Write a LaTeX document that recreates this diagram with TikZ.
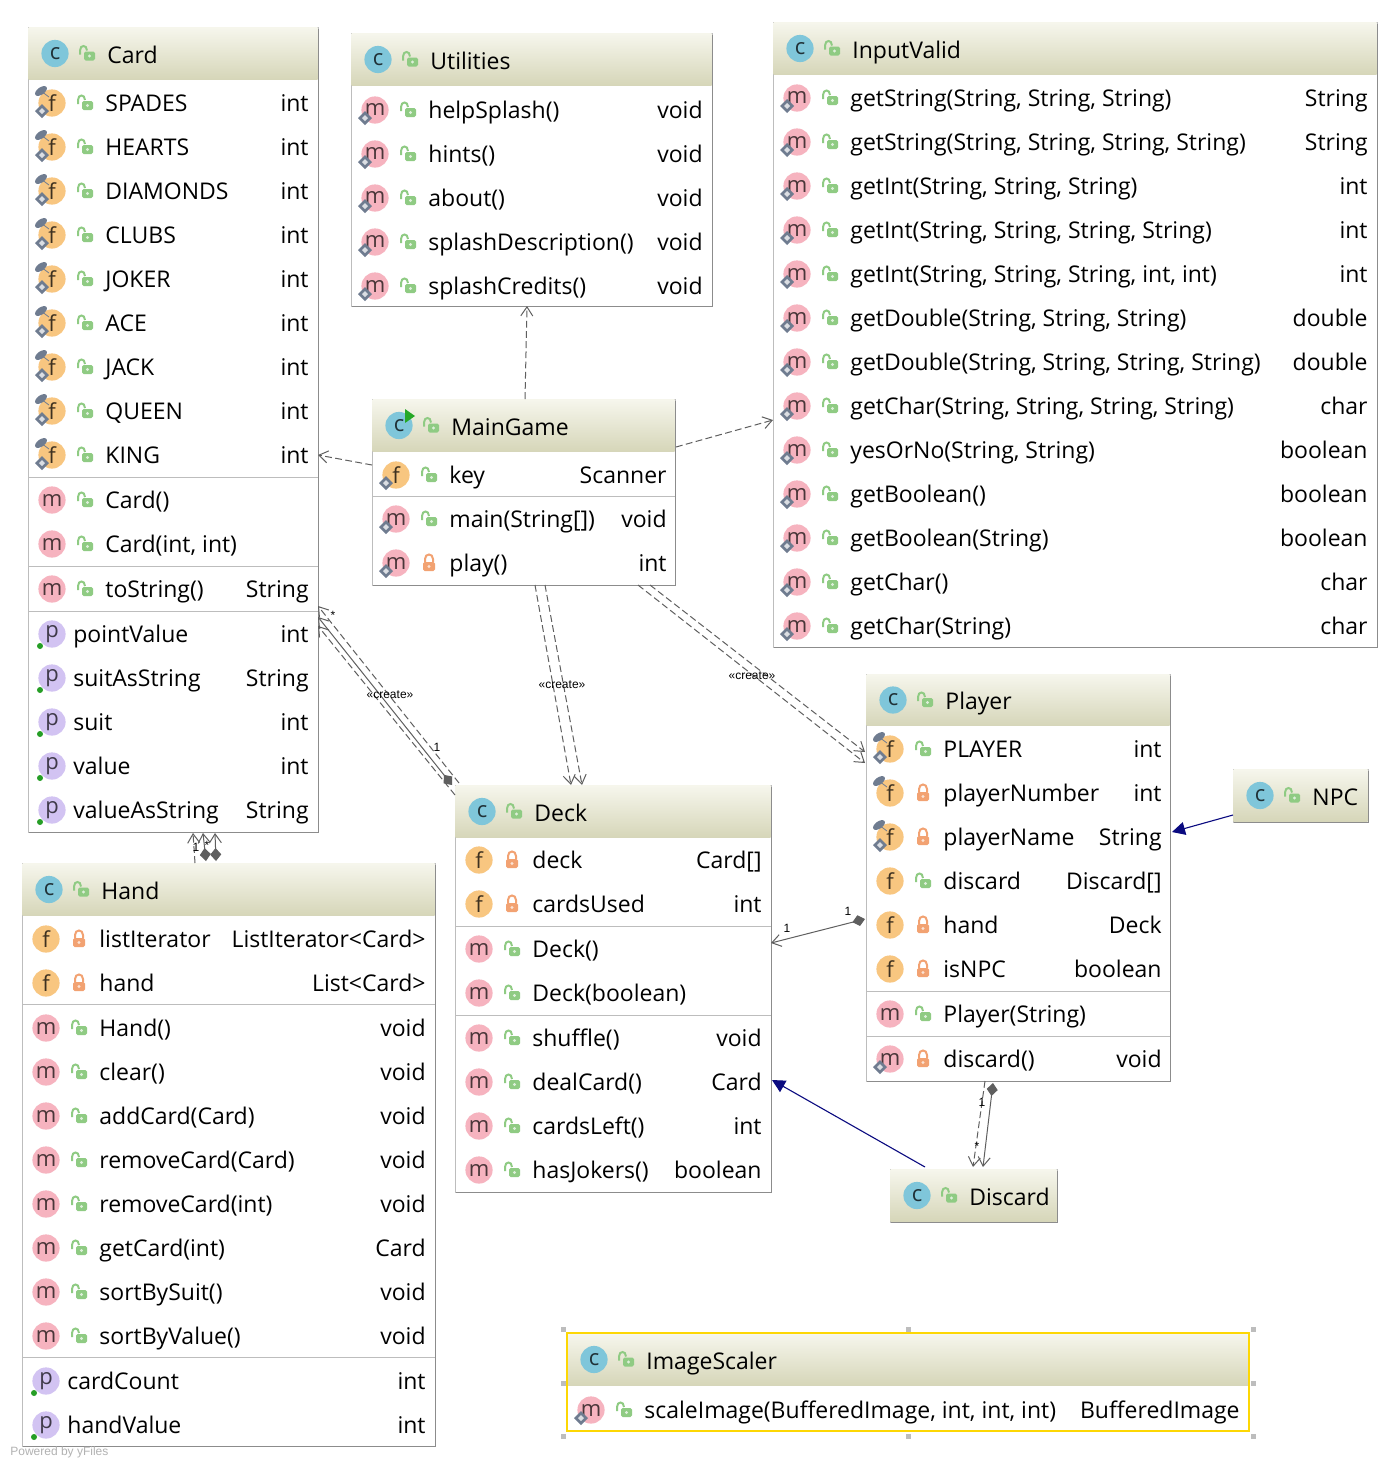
\documentclass[tikz,border=0pt]{standalone}
\usepackage{fontspec}
\setmainfont{Open Sans}
\newfontfamily\smallfont{Liberation Sans}
\usetikzlibrary{arrows.meta,shadings}

\definecolor{headtop}{HTML}{F6F6EC}
\definecolor{headbot}{HTML}{D6D6B9}
\definecolor{edgelight}{HTML}{BDBDBD}
\definecolor{edgedark}{HTML}{8C8C8C}
\definecolor{ballc}{HTML}{7FC6DA}
\definecolor{ballf}{HTML}{F8C680}
\definecolor{ballm}{HTML}{F6B3BF}
\definecolor{ballp}{HTML}{D2C3F2}
\definecolor{markgrey}{HTML}{6F7C90}
\definecolor{lockopen}{HTML}{8FCB83}
\definecolor{lockshut}{HTML}{F2A272}
\definecolor{linkgrey}{HTML}{5F5F5F}
\definecolor{linknavy}{HTML}{0A0A80}

\tikzset{
  boxbody/.style={draw=edgelight,fill=white,line width=0.5pt,anchor=north west,inner sep=0,outer sep=0},
  boxhead/.style={top color=headtop,bottom color=headbot,anchor=north west,inner sep=0,outer sep=0},
  boxname/.style={anchor=base west,inner sep=0,font=\fontsize{11.5}{14}\selectfont},
  rowname/.style={anchor=base west,inner sep=0,font=\fontsize{11.5}{14}\selectfont},
  rowtype/.style={anchor=base east,inner sep=0,font=\fontsize{11.5}{14}\selectfont},
  ball/.style={circle,minimum size=13.6pt,inner sep=0,font=\fontsize{11}{12}\selectfont},
  linktext/.style={inner sep=0,font=\smallfont\fontsize{6}{7}\selectfont},
  link/.style={draw=linkgrey,line width=0.5pt},
  dep/.style={link,dash pattern=on 3.4pt off 1.7pt,-{Straight Barb[length=4.5pt,width=6pt]}},
  own/.style={link,{Diamond[length=6.5pt,width=5.5pt,fill=linkgrey]}-{Straight Barb[length=4.5pt,width=6pt]}},
  inherit/.style={draw=linknavy,line width=0.55pt,-{Triangle[length=6.5pt,width=6.5pt,fill=linknavy]}},
  grip/.style={fill=edgelight,inner sep=0,minimum size=2.5pt},
  pics/pinmark/.style={code={
    \draw[markgrey,line width=0.4pt] (-11,-12) -- (-3,-6);
    \fill[markgrey,rotate around={35:(-11,-12)}] (-11,-12) ellipse (3.4pt and 1.8pt);
  }},
  pics/diamark/.style={code={
    \fill[markgrey] (-17,8) -- (-10,1) -- (-3,8) -- (-10,15) -- cycle;
    \fill[white!75!markgrey] (-13,8) -- (-10,5) -- (-7,8) -- (-10,11) -- cycle;
  }},
  pics/cicon/.style={code={\node[ball,fill=ballc,text=black!75!ballc] (-ball) {c};}},
  pics/ficon/.style={code={\node[ball,fill=ballf,text=black!75!ballf] (-ball) {f};}},
  pics/micon/.style={code={\node[ball,fill=ballm,text=black!70!ballm] (-ball) {m};}},
  pics/fsicon/.style={code={\pic (-a) {ficon}; \pic {diamark};}},
  pics/ffsicon/.style={code={\pic (-a) {ficon}; \pic {pinmark}; \pic {diamark};}},
  pics/fficon/.style={code={\pic (-a) {ficon}; \pic {pinmark};}},
  pics/msicon/.style={code={\pic (-a) {micon}; \pic {diamark};}},
  pics/picon/.style={code={
    \node[ball,fill=ballp,text=black!70!ballp] (-ball) {p};
    \fill[green!55!black!85!white] (-12,12) circle (1.5pt);
  }},
  pics/pub/.style={code={
    \draw[lockopen,line width=1pt] (-7,1) -- (-7,-3) .. controls (-7,-9) and (0,-9) .. (0,-3);
    \fill[lockopen,rounded corners=0.8pt] (-3,-2) rectangle (8,7);
    \fill[white!70!lockopen] (2.5,2.5) circle (0.8pt);
  }},
  pics/priv/.style={code={
    \draw[lockshut,line width=1pt] (-4,-1) -- (-4,-4) .. controls (-4,-10) and (4,-10) .. (4,-4) -- (4,-1);
    \fill[lockshut,rounded corners=0.8pt] (-6,-1) rectangle (6,8);
    \fill[white!70!lockshut] (0,3.5) circle (0.8pt);
  }},
}

% #1 name, #2 title, #3 left, #4 top, #5 right, #6 bottom, #7 head bottom
\newcommand{\classbox}[7]{
  \node[boxbody,minimum width=(#5-#3)*0.5pt,minimum height=(#6-#4)*0.5pt] (#1) at (#3,#4) {};
  \node[boxhead,minimum width=(#5-#3-1)*0.5pt,minimum height=(#7-#4-1)*0.5pt] (#1-head) at (#3+0.5,#4+0.5) {};
  \path[draw=edgedark,line width=0.8pt] (#5+0.3,#4+2) -- (#5+0.3,#6+0.3) -- (#3+1,#6+0.3);
  \pic (#1-c) at (#3+27,{(#4+#7)/2}) {cicon};
  \pic (#1-lock) at (#3+59,{(#4+#7)/2}) {pub};
  \node[boxname] (#1-title) at (#3+79,{(#4+#7)/2+9.5}) {#2};
}

% #1 name, #2 left, #3 right, #4 first row, #5 list icon/lock/text/type
\newcommand{\memberrows}[5]{
  \foreach \icn/\lck/\txt/\typ [count=\i] in {#5} {
    \pgfmathsetmacro{\rowy}{#4+(\i-1)*44}
    \pic (#1-icon\i) at (#2+24,\rowy) {\icn};
    \pic (#1-lock\i) at (#2+57,\rowy) {\lck};
    \node[rowname] (#1-text\i) at (#2+77,\rowy+8.8) {\txt};
    \node[rowtype] (#1-type\i) at (#3-9,\rowy+8.8) {\typ};
  }
}

% #1 name, #2 left, #3 right, #4 first row, #5 list text/type
\newcommand{\proprows}[5]{
  \foreach \txt/\typ [count=\i] in {#5} {
    \pgfmathsetmacro{\rowy}{#4+(\i-1)*44}
    \pic (#1-p\i) at (#2+24,\rowy) {picon};
    \node[rowname] (#1-ptext\i) at (#2+45,\rowy+8.8) {\txt};
    \node[rowtype] (#1-ptype\i) at (#3-9,\rowy+8.8) {\typ};
  }
}

% #1 name, #2 left, #3 right, #4 height
\newcommand{\sepline}[4]{
  \coordinate (#1-sep#4) at (#2,#4);
  \draw[edgelight,line width=0.5pt] (#1-sep#4) -- (#3,#4);
}

\begin{document}
\begin{tikzpicture}[x=0.5pt,y=-0.5pt]

\useasboundingbox (0,0) rectangle (1398,1468);
\fill[white] (0,0) rectangle (1398,1468);

% Card
\classbox{card}{Card}{28}{27}{318}{832}{80}
\memberrows{card}{28}{318}{103}{
  ffsicon/pub/SPADES/int,ffsicon/pub/HEARTS/int,ffsicon/pub/DIAMONDS/int,
  ffsicon/pub/CLUBS/int,ffsicon/pub/JOKER/int,ffsicon/pub/ACE/int,
  ffsicon/pub/JACK/int,ffsicon/pub/QUEEN/int,ffsicon/pub/KING/int}
\sepline{card}{28}{318}{477}
\memberrows{cardnew}{28}{318}{500}{micon/pub/Card()/{},micon/pub/{Card(int, int)}/{}}
\sepline{card}{28}{318}{566}
\memberrows{cardstr}{28}{318}{589}{micon/pub/toString()/String}
\sepline{card}{28}{318}{611}
\proprows{card}{28}{318}{634}{pointValue/int,suitAsString/String,suit/int,value/int,valueAsString/String}

% Utilities
\classbox{util}{Utilities}{351}{33}{712}{306}{86}
\memberrows{util}{351}{712}{110}{
  msicon/pub/helpSplash()/void,msicon/pub/hints()/void,msicon/pub/about()/void,
  msicon/pub/splashDescription()/void,msicon/pub/splashCredits()/void}

% InputValid
\classbox{input}{InputValid}{773}{22}{1377}{647}{75}
\memberrows{input}{773}{1377}{98}{
  msicon/pub/{getString(String, String, String)}/String,
  msicon/pub/{getString(String, String, String, String)}/String,
  msicon/pub/{getInt(String, String, String)}/int,
  msicon/pub/{getInt(String, String, String, String)}/int,
  msicon/pub/{getInt(String, String, String, int, int)}/int,
  msicon/pub/{getDouble(String, String, String)}/double,
  msicon/pub/{getDouble(String, String, String, String)}/double,
  msicon/pub/{getChar(String, String, String, String)}/char,
  msicon/pub/{yesOrNo(String, String)}/boolean,
  msicon/pub/getBoolean()/boolean,
  msicon/pub/getBoolean(String)/boolean,
  msicon/pub/getChar()/char,
  msicon/pub/getChar(String)/char}

% MainGame
\classbox{game}{MainGame}{372}{399}{675}{585}{452}
\fill[green!60!black!85!white] (405,409) -- (415,416) -- (405,423) -- cycle;
\memberrows{game}{372}{676}{475}{fsicon/pub/key/Scanner}
\sepline{game}{372}{675}{496}
\memberrows{gamerun}{372}{676}{519}{msicon/pub/main(String[])/void}
\memberrows{gameplay}{372}{676}{563}{msicon/priv/play()/int}

% Player
\classbox{player}{Player}{866}{674}{1170}{1081}{726}
\memberrows{player}{866}{1171}{749}{
  ffsicon/pub/PLAYER/int,fficon/priv/playerNumber/int,ffsicon/priv/playerName/String,
  ficon/pub/discard/Discard[],ficon/priv/hand/Deck,ficon/priv/isNPC/boolean}
\sepline{player}{866}{1170}{991}
\memberrows{playernew}{866}{1171}{1014}{micon/pub/Player(String)/{}}
\sepline{player}{866}{1170}{1036}
\memberrows{playerrun}{866}{1171}{1059}{msicon/priv/discard()/void}

% Deck
\classbox{deck}{Deck}{455}{785}{771}{1192}{838}
\memberrows{deck}{455}{771}{860}{ficon/priv/deck/Card[],ficon/priv/cardsUsed/int}
\sepline{deck}{455}{771}{926}
\memberrows{decknew}{455}{771}{949}{micon/pub/Deck()/{},micon/pub/Deck(boolean)/{}}
\sepline{deck}{455}{771}{1015}
\memberrows{deckrun}{455}{771}{1038}{
  micon/pub/shuffle()/void,micon/pub/dealCard()/Card,
  micon/pub/cardsLeft()/int,micon/pub/hasJokers()/boolean}

% Hand
\classbox{hand}{Hand}{22}{863}{435}{1446}{916}
\memberrows{hand}{22}{435}{939}{ficon/priv/listIterator/ListIterator<Card>,ficon/priv/hand/List<Card>}
\sepline{hand}{22}{435}{1004}
\memberrows{handrun}{22}{435}{1028}{
  micon/pub/Hand()/void,micon/pub/clear()/void,micon/pub/addCard(Card)/void,
  micon/pub/removeCard(Card)/void,micon/pub/removeCard(int)/void,micon/pub/getCard(int)/Card,
  micon/pub/sortBySuit()/void,micon/pub/sortByValue()/void}
\sepline{hand}{22}{435}{1357}
\proprows{hand}{22}{435}{1381}{cardCount/int,handValue/int}

% NPC and Discard
\classbox{npc}{NPC}{1233}{769}{1368}{822}{822}
\classbox{discard}{Discard}{890}{1169}{1057}{1222}{1222}

% ImageScaler, selected
\classbox{scaler}{ImageScaler}{567}{1333}{1249}{1431}{1386}
\memberrows{scaler}{567}{1249}{1410}{msicon/pub/{scaleImage(BufferedImage, int, int, int)}/BufferedImage}
\draw[yellow!75!orange,line width=1pt] (scaler.north west) rectangle (scaler.south east);
\foreach \gx/\gy [count=\i] in {563/1329,908/1329,1253/1329,563/1383,1253/1383,563/1436,908/1436,1253/1436}
  \node[grip] (grip\i) at (\gx,\gy) {};

% connectors
\draw[dep] ([shift={(153,0)}]game.north west) -- ([shift={(176,0)}]util.south west);
\draw[dep] ([shift={(304,48)}]game.north west) -- ([shift={(0,398)}]input.north west);
\draw[dep] ([shift={(0,66)}]game.north west) -- ([shift={(0,428)}]card.north east);
\draw[dep] ([shift={(163,0)}]game.south west) -- ([shift={(116,0)}]deck.north west);
\draw[dep] ([shift={(173,0)}]game.south west) -- ([shift={(127,0)}]deck.north west);
\draw[dep] ([shift={(266,0)}]game.south west) -- ([shift={(-1,89)}]player.north west);
\draw[dep] ([shift={(278,0)}]game.south west) -- ([shift={(-1,78)}]player.north west);
\node[linktext] (creategame) at (562,685) {«create»};
\node[linktext] (createplayer) at (752,676) {«create»};

\draw[dep] ([shift={(4,-2)}]deck.north west) -- ([shift={(0,579)}]card.north east);
\draw[dep] ([shift={(0,10)}]deck.north west) -- ([shift={(0,599)}]card.north east);
\draw[own] ([shift={(-3,0)}]deck.north west) -- ([shift={(0,590)}]card.north east);
\node[linktext] (createcard) at (390,695) {«create»};
\node[linktext] (cardstar) at (333,615) {*};
\node[linktext] (cardone) at (437,747) {1};

\draw[dep] ([shift={(173,0)}]hand.north west) -- ([shift={(165,1)}]card.south west);
\draw[own] ([shift={(184,-2)}]hand.north west) -- ([shift={(175,1)}]card.south west);
\draw[own] ([shift={(194,-2)}]hand.north west) -- ([shift={(187,1)}]card.south west);
\node[linktext] (handone) at (196,847) {1};
\node[linktext] (handstar) at (207,845) {*};

\draw[own] ([shift={(-1,245)}]player.north west) -- ([shift={(0,158)}]deck.north east);
\node[linktext] (playerone) at (848,911) {1};
\node[linktext] (deckone) at (787,928) {1};

\draw[inherit] ([shift={(35,-2)}]discard.north west) -- ([shift={(1,295)}]deck.north east);
\draw[inherit] ([shift={(0,46)}]npc.north west) -- ([shift={(2,158)}]player.north east);

\draw[dep] ([shift={(119,0)}]player.south west) -- ([shift={(83,-2)}]discard.north west);
\draw[own] ([shift={(127,2)}]player.south west) -- ([shift={(93,-2)}]discard.north west);
\node[linktext] (discone) at (982,1102) {1};
\node[linktext] (discstar) at (977,1146) {*};

\node[anchor=west,inner sep=0,text=black!30,font=\smallfont\fontsize{6}{7}\selectfont] (powered) at (10,1452) {Powered by yFiles};

\end{tikzpicture}
\end{document}
